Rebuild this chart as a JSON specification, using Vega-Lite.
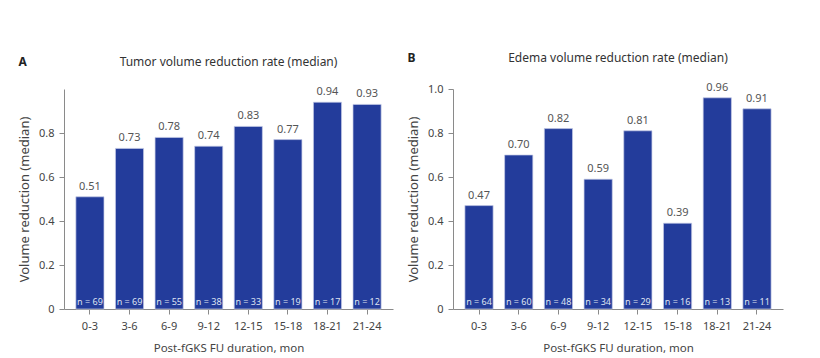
{
  "$schema": "https://vega.github.io/schema/vega-lite/v6.json",
  "padding": {"top": 51, "left": 18, "right": 5, "bottom": 0},
  "background": "white",
  "datasets": {
    "d": [
      {"panel": "A", "dur": "0-3", "v": 0.51, "nl": "n = 69"},
      {"panel": "A", "dur": "3-6", "v": 0.73, "nl": "n = 69"},
      {"panel": "A", "dur": "6-9", "v": 0.78, "nl": "n = 55"},
      {"panel": "A", "dur": "9-12", "v": 0.74, "nl": "n = 38"},
      {"panel": "A", "dur": "12-15", "v": 0.83, "nl": "n = 33"},
      {"panel": "A", "dur": "15-18", "v": 0.77, "nl": "n = 19"},
      {"panel": "A", "dur": "18-21", "v": 0.94, "nl": "n = 17"},
      {"panel": "A", "dur": "21-24", "v": 0.93, "nl": "n = 12"},
      {"panel": "B", "dur": "0-3", "v": 0.47, "nl": "n = 64"},
      {"panel": "B", "dur": "3-6", "v": 0.70, "nl": "n = 60"},
      {"panel": "B", "dur": "6-9", "v": 0.82, "nl": "n = 48"},
      {"panel": "B", "dur": "9-12", "v": 0.59, "nl": "n = 34"},
      {"panel": "B", "dur": "12-15", "v": 0.81, "nl": "n = 29"},
      {"panel": "B", "dur": "15-18", "v": 0.39, "nl": "n = 16"},
      {"panel": "B", "dur": "18-21", "v": 0.96, "nl": "n = 13"},
      {"panel": "B", "dur": "21-24", "v": 0.91, "nl": "n = 11"}
    ]
  },
  "config": {
    "font": "Noto Sans",
    "view": {"stroke": null},
    "axis": {
      "domainColor": "#8a8a8a",
      "tickColor": "#8a8a8a",
      "labelColor": "#444",
      "titleColor": "#444",
      "labelFontSize": 11,
      "titleFontSize": 11.5,
      "titleFontWeight": "normal",
      "grid": false,
      "tickSize": 5
    },
    "concat": {"spacing": 14}
  },
  "hconcat": [
    {
      "title": {"text": "A", "anchor": "start", "frame": "bounds", "fontWeight": "bold", "fontSize": 12, "color": "#222", "dy": 17},
      "vconcat": [
        {
          "title": {"text": "Tumor volume reduction rate (median)", "fontWeight": "normal", "fontSize": 12, "color": "#333", "offset": 17},
          "width": 329,
          "height": 220,
          "data": {"name": "d"},
          "transform": [{"filter": "datum.panel == 'A'"}],
          "encoding": {
            "x": {"field": "dur", "type": "ordinal", "sort": null,
              "scale": {"paddingInner": 0.29, "paddingOuter": 0.3},
              "axis": {"title": "Post-fGKS FU duration, mon", "labelAngle": 0, "titlePadding": 11, "labelPadding": 6}}
          },
          "layer": [
            {
              "mark": {"type": "bar", "color": "#233c9b", "stroke": "#c5cce6", "strokeWidth": 0.7},
              "encoding": {
                "y": {"field": "v", "type": "quantitative", "scale": {"domain": [0, 1]},
                  "axis": {"values": [0, 0.2, 0.4, 0.6, 0.8], "title": "Volume reduction (median)", "titleFontSize": 13,
                    "labelExpr": "datum.value == 0 ? '0' : format(datum.value, '.1f')", "labelPadding": 5, "titlePadding": 7}}
              }
            },
            {
              "mark": {"type": "text", "baseline": "bottom", "dy": -5, "color": "#555", "fontSize": 11},
              "encoding": {"y": {"field": "v", "type": "quantitative"}, "text": {"field": "v", "format": ".2f"}}
            },
            {
              "mark": {"type": "text", "baseline": "bottom", "dy": -2, "color": "#dfe3f2", "fontSize": 9},
              "encoding": {"y": {"datum": 0}, "text": {"field": "nl"}}
            }
          ]
        }
      ]
    },
    {
      "title": {"text": "B", "anchor": "start", "frame": "bounds", "fontWeight": "bold", "fontSize": 12, "color": "#222", "dy": 17},
      "vconcat": [
        {
          "title": {"text": "Edema volume reduction rate (median)", "fontWeight": "normal", "fontSize": 12, "color": "#333", "offset": 17},
          "width": 330,
          "height": 220,
          "data": {"name": "d"},
          "transform": [{"filter": "datum.panel == 'B'"}],
          "encoding": {
            "x": {"field": "dur", "type": "ordinal", "sort": null,
              "scale": {"paddingInner": 0.29, "paddingOuter": 0.3},
              "axis": {"title": "Post-fGKS FU duration, mon", "labelAngle": 0, "titlePadding": 11, "labelPadding": 6}}
          },
          "layer": [
            {
              "mark": {"type": "bar", "color": "#233c9b", "stroke": "#c5cce6", "strokeWidth": 0.7},
              "encoding": {
                "y": {"field": "v", "type": "quantitative", "scale": {"domain": [0, 1]},
                  "axis": {"values": [0, 0.2, 0.4, 0.6, 0.8, 1.0], "title": "Volume reduction (median)", "titleFontSize": 13,
                    "labelExpr": "datum.value == 0 ? '0' : format(datum.value, '.1f')", "labelPadding": 5, "titlePadding": 7}}
              }
            },
            {
              "mark": {"type": "text", "baseline": "bottom", "dy": -5, "color": "#555", "fontSize": 11},
              "encoding": {"y": {"field": "v", "type": "quantitative"}, "text": {"field": "v", "format": ".2f"}}
            },
            {
              "mark": {"type": "text", "baseline": "bottom", "dy": -2, "color": "#dfe3f2", "fontSize": 9},
              "encoding": {"y": {"datum": 0}, "text": {"field": "nl"}}
            }
          ]
        }
      ]
    }
  ]
}
